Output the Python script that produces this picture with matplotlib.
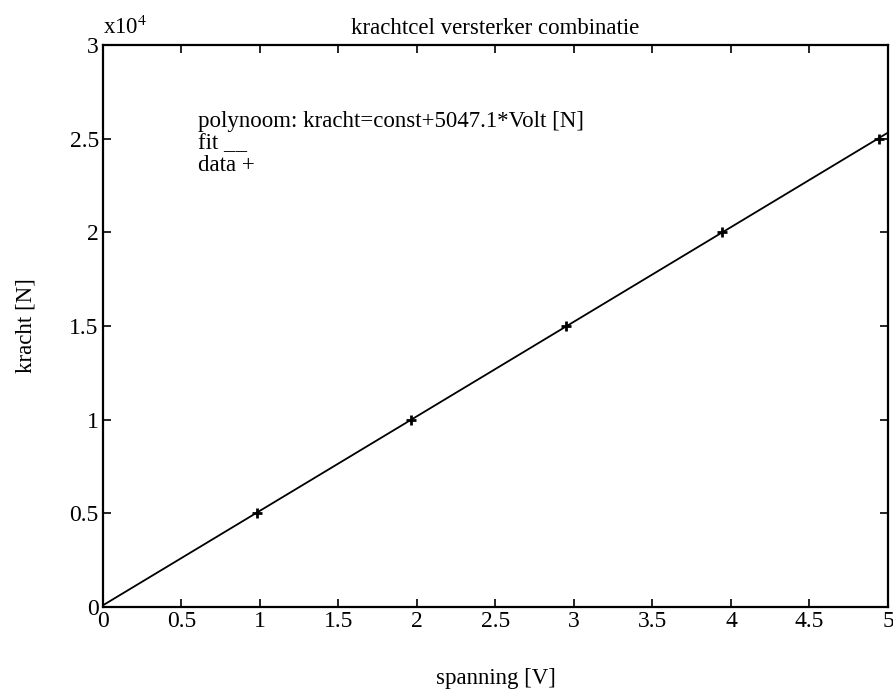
import numpy as np
import matplotlib
matplotlib.use('Agg')
import matplotlib.pyplot as plt
from matplotlib.ticker import FuncFormatter, MultipleLocator

# meetpunten krachtcel
spanning = [0.98, 1.96, 2.95, 3.94, 4.94]      # [V]
kracht = [5000, 10000, 15000, 20000, 25000]    # [N]
helling = 5047.1                                # [N/V]

plt.rcParams['font.family'] = ['Liberation Serif', 'DejaVu Serif']
plt.rcParams['mathtext.fontset'] = 'stix'

const = np.mean(kracht) - helling * np.mean(spanning)
x_fit = np.array([0, 5])
y_fit = const + helling * x_fit

fig = plt.figure(figsize=(8.93, 6.93), dpi=100)
ax = fig.add_axes([0.1153, 0.1241, 0.8791, 0.8109])

ax.plot(x_fit, y_fit, color='black', linewidth=1.3)
ax.plot(spanning, kracht, linestyle='none', marker='+', color='black',
        markersize=7, markeredgewidth=2)

ax.set_xlim(0, 5)
ax.set_ylim(0, 30000)
ax.xaxis.set_major_locator(MultipleLocator(0.5))
ax.yaxis.set_major_locator(MultipleLocator(5000))
ax.xaxis.set_major_formatter(FuncFormatter(lambda v, p: '%g' % v))
ax.yaxis.set_major_formatter(FuncFormatter(lambda v, p: '%g' % (v / 1e4)))
ax.tick_params(direction='in', length=6, width=1.2, top=True, right=True,
               labelsize=17, pad=3)
for s in ax.spines.values():
    s.set_linewidth(1.6)

ax.text(0, 1.01, r'x10$^{4}$', transform=ax.transAxes, fontsize=16.5,
        ha='left', va='bottom')
ax.set_title('krachtcel versterker combinatie', fontsize=16.5, pad=8)
ax.set_xlabel('spanning [V]', fontsize=16.5, labelpad=26)
ax.set_ylabel('kracht [N]', fontsize=16.5, labelpad=24)

ax.text(0.605, 25600, 'polynoom: kracht=const+%.1f*Volt [N]' % helling,
        fontsize=16.5, va='baseline')
ax.text(0.605, 24430, 'fit __', fontsize=16.5, va='baseline')
ax.text(0.605, 23300, 'data +', fontsize=16.5, va='baseline')

plt.savefig('out.png', dpi=100)
